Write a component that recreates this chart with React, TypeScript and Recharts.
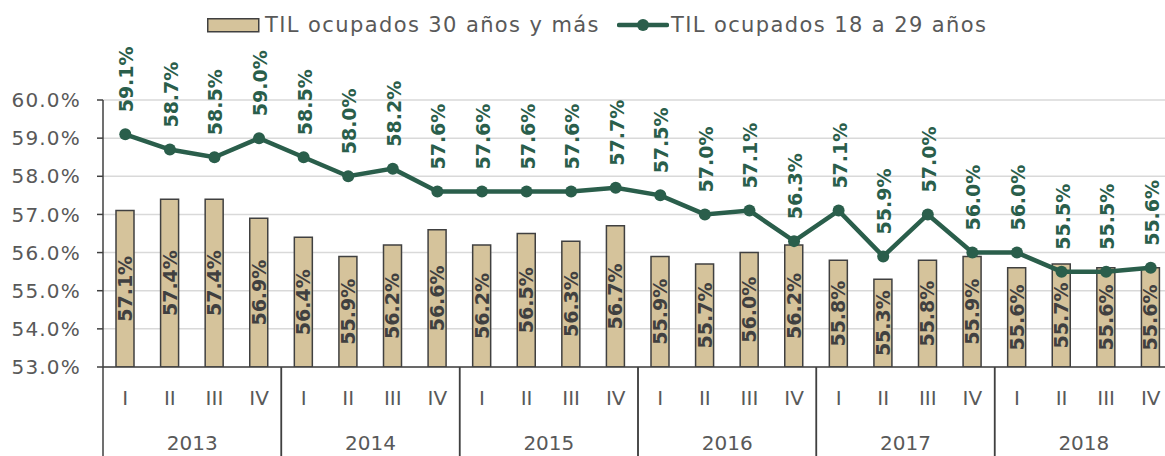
import React from 'react';
import { ComposedChart, Bar, Line, XAxis, YAxis, CartesianGrid, Legend, LabelList } from 'recharts';

const years = ['2013', '2014', '2015', '2016', '2017', '2018'];
const quarterNames = ['I', 'II', 'III', 'IV'];
const olderRate = [57.1, 57.4, 57.4, 56.9, 56.4, 55.9, 56.2, 56.6, 56.2, 56.5, 56.3, 56.7, 55.9, 55.7, 56.0, 56.2, 55.8, 55.3, 55.8, 55.9, 55.6, 55.7, 55.6, 55.6];
const youngRate = [59.1, 58.7, 58.5, 59.0, 58.5, 58.0, 58.2, 57.6, 57.6, 57.6, 57.6, 57.7, 57.5, 57.0, 57.1, 56.3, 57.1, 55.9, 57.0, 56.0, 56.0, 55.5, 55.5, 55.6];
const yTicks = [53, 54, 55, 56, 57, 58, 59, 60];
const seriesNames = ['TIL ocupados 30 años y más', 'TIL ocupados 18 a 29 años'];

const data = olderRate.map((v, i) => ({
  key: `${years[Math.floor(i / 4)]}-${quarterNames[i % 4]}`,
  quarter: quarterNames[i % 4],
  year: years[Math.floor(i / 4)],
  older: v,
  young: youngRate[i],
}));

const FONT = "'DejaVu Sans', sans-serif";
const GREEN = '#2A5E4B';
const TAN = '#D5C39B';
const DARK = '#404040';
const GRAY = '#595959';

const XTick = (props: any) => {
  const { x, y, payload, index } = props;
  const off = payload && payload.offset ? payload.offset : 22.3;
  const d = data[index] || data[0];
  const pos = index % 4;
  return (
    <g>
      <text x={x} y={y + 31} textAnchor="middle" dominantBaseline="central" fill={GRAY} fontSize={20} fontFamily={FONT} fontWeight="normal">
        {d.quarter}
      </text>
      {pos === 0 && <line x1={x - off} y1={y} x2={x - off} y2={y + 95} stroke={DARK} strokeWidth={1.5} />}
      {pos === 1 && (
        <text x={x + off} y={y + 76} textAnchor="middle" dominantBaseline="central" fill={GRAY} fontSize={20} fontFamily={FONT} fontWeight="normal">
          {d.year}
        </text>
      )}
      {pos === 3 && <line x1={x + off} y1={y} x2={x + off} y2={y + 95} stroke={DARK} strokeWidth={1.5} />}
    </g>
  );
};

const YoungLabel = (props: any) => {
  const { x, y, value } = props;
  const ty = y - 22;
  return (
    <text x={x + 1} y={ty} transform={`rotate(-90, ${x + 1}, ${ty})`} textAnchor="start" dominantBaseline="central" fill={GREEN} fontWeight="bold" fontSize={19} fontFamily={FONT}>
      {`${Number(value).toFixed(1)}%`}
    </text>
  );
};

const OlderLabel = (props: any) => {
  const { x, y, width, height, value } = props;
  const cx = x + width / 2;
  const cy = y + height / 2;
  return (
    <text x={cx} y={cy} transform={`rotate(-90, ${cx}, ${cy})`} textAnchor="middle" dominantBaseline="central" fill={DARK} fontWeight="bold" fontSize={19} fontFamily={FONT}>
      {`${Number(value).toFixed(1)}%`}
    </text>
  );
};

const LegendContent = () => (
  <div style={{ height: 50, display: 'flex', alignItems: 'center', paddingLeft: 207, fontFamily: FONT, fontSize: 21, letterSpacing: 1.4, color: GRAY, whiteSpace: 'nowrap' }}>
    <svg width={53} height={15} style={{ marginRight: 5 }}>
      <rect x={0.75} y={0.75} width={51} height={13} fill={TAN} stroke={DARK} strokeWidth={1.5} />
    </svg>
    <span>{seriesNames[0]}</span>
    <svg width={52} height={14} style={{ marginLeft: 17, marginRight: 2 }}>
      <line x1={2} y1={7} x2={50} y2={7} stroke={GREEN} strokeWidth={4.5} strokeLinecap="round" />
      <circle cx={26} cy={7} r={6} fill={GREEN} />
    </svg>
    <span>{seriesNames[1]}</span>
  </div>
);

export default function App() {
  return (
    <div style={{ position: 'absolute', left: 0, top: 0, width: 1165, height: 456, overflow: 'hidden', background: '#fff' }}>
      <ComposedChart width={1180} height={456} data={data} margin={{ top: 50, right: 7, bottom: 0, left: 0 }} barCategoryGap={0}>
        <CartesianGrid horizontal vertical={false} stroke="#D9D9D9" strokeWidth={1.5} />
        <XAxis
          dataKey="key"
          interval={0}
          height={89}
          tickSize={0}
          tickMargin={0}
          tickLine={false}
          axisLine={{ stroke: DARK, strokeWidth: 1.5 }}
          tick={<XTick />}
        />
        <YAxis
          width={103}
          domain={[53, 60]}
          ticks={yTicks}
          interval={0}
          allowDataOverflow
          tickSize={6}
          tickMargin={16}
          tickLine={{ stroke: DARK, strokeWidth: 1.5 }}
          axisLine={{ stroke: DARK, strokeWidth: 1.5 }}
          tick={{ fill: GRAY, fontSize: 20, fontFamily: FONT, style: { letterSpacing: 1.2 } }}
          tickFormatter={(v: number) => `${v.toFixed(1)}%`}
        />
        <Legend verticalAlign="top" content={<LegendContent />} wrapperStyle={{ top: 0, left: 0 }} />
        <Bar dataKey="older" name={seriesNames[0]} fill={TAN} stroke={DARK} strokeWidth={1.5} barSize={18} isAnimationActive={false}>
          <LabelList dataKey="older" content={<OlderLabel />} />
        </Bar>
        <Line dataKey="young" name={seriesNames[1]} stroke={GREEN} strokeWidth={4.5} dot={{ r: 6, fill: GREEN, stroke: GREEN, strokeWidth: 0 }} activeDot={false} isAnimationActive={false}>
          <LabelList dataKey="young" content={<YoungLabel />} />
        </Line>
      </ComposedChart>
    </div>
  );
}
